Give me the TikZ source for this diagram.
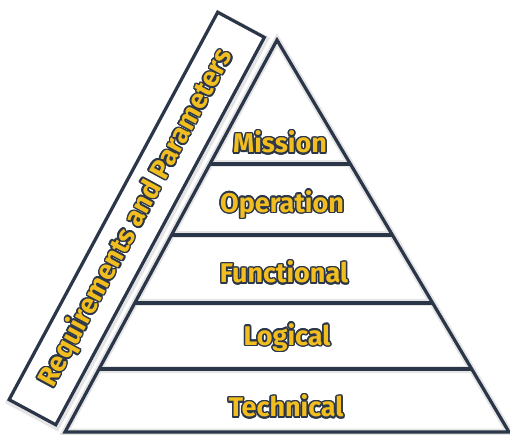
\documentclass[tikz,border=0pt]{standalone}
\usepackage{fontspec}
\setmainfont{Fira Sans}
\usepackage{contour}
\usetikzlibrary{calc}
\definecolor{navy}{HTML}{2B3648}
\definecolor{gold}{HTML}{F2BE1F}
\contourlength{1.5pt}
\contournumber{16}
\newcommand{\goldtext}[1]{\contour{navy}{#1}}
\tikzset{
    layer/.style={line width=3.2pt, draw=navy, line join=miter},
    halo/.style={line width=7pt, draw=black!10, shift={(0.8,2)}},
    levellabel/.style={font=\fontsize{27}{27}\selectfont\bfseries, text=gold},
}
\begin{document}
\begin{tikzpicture}[x=1pt,y=-1pt]
        \useasboundingbox (0,0) rectangle (510,434);
        \coordinate (apex) at (277,40);
        \coordinate (baseleft) at (65,432);
        \coordinate (baseright) at (509,432);
        % soft shade under the lines
        \draw[halo] (baseleft) -- (apex) -- (baseright) -- cycle;
        \foreach \t in {0.3163,0.4974,0.6709,0.8393}
            {
                \draw[halo] ($(apex)!\t!(baseleft)$) -- ($(apex)!\t!(baseright)$);
            }
        \node (reqshade) [draw=black!10, line width=7pt, rotate=61.7, minimum width=440pt, minimum height=53pt] at (137.5,220.5) {};
        % pyramid
        \draw[layer] (baseleft) -- (apex) -- (baseright) -- cycle;
        \foreach \t in {0.3163,0.4974,0.6709,0.8393}
            {
                \draw[layer] ($(apex)!\t!(baseleft)$) -- ($(apex)!\t!(baseright)$);
            }
        \foreach \name/\x/\y in {Mission/280/143,Operation/282/205,Functional/284/273,Logical/287/338,Technical/286/407}
            {
                \node[levellabel] (\name) at (\x,\y) {\goldtext{\name}};
            }
        % side box
        \node (reqbox) [draw=navy, fill=white, line width=3.2pt, rotate=61.7, minimum width=440pt, minimum height=53pt, levellabel, font=\fontsize{27.5}{27.5}\selectfont\bfseries] at (136.75,218.5) {\goldtext{Requirements and Parameters}};
    \end{tikzpicture}
\end{document}
